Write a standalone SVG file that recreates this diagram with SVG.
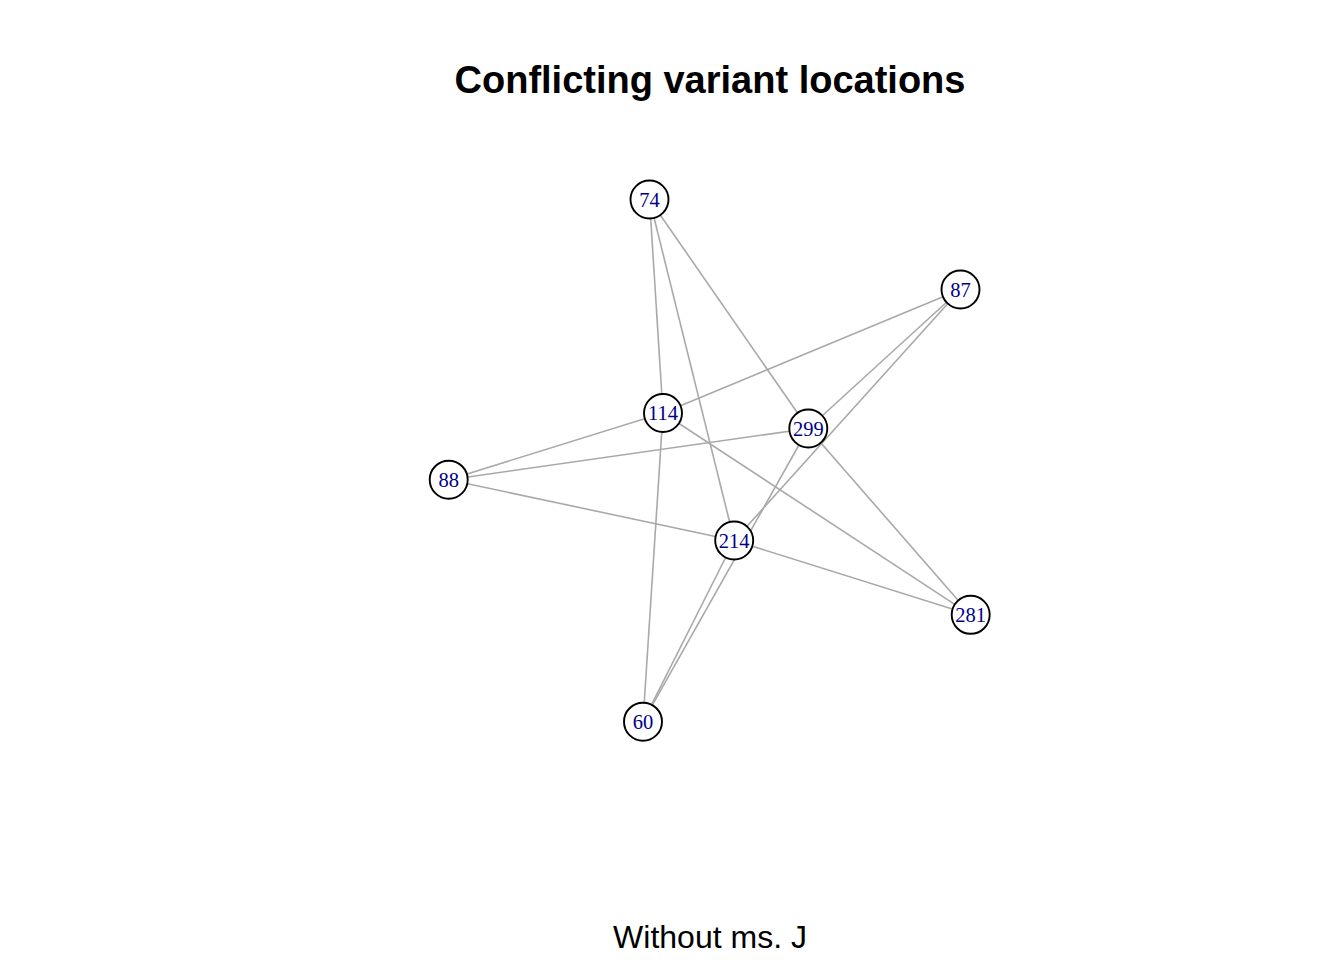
<svg xmlns="http://www.w3.org/2000/svg" width="1344" height="960" viewBox="0 0 1344 960">
<style>
.e{stroke:#A9A9A9;stroke-width:1.6;fill:none}
.n circle{fill:#FFFFFF;stroke:#000000;stroke-width:1.9}
.n text{font-family:"Liberation Serif","Times New Roman",serif;font-size:20.5px;fill:#00008B;text-anchor:middle;dominant-baseline:central}
.t{font-family:"Liberation Sans",Arial,sans-serif;fill:#000;text-anchor:middle}
</style>
<rect width="1344" height="960" fill="#FFFFFF"/>
<text class="t" x="710" y="93" font-size="38" font-weight="bold">Conflicting variant locations</text>
<text class="t" x="710" y="948" font-size="32">Without ms. J</text>
<g id="edges">
<line class="e" x1="649.5" y1="199.5" x2="663" y2="413"/>
<line class="e" x1="649.5" y1="199.5" x2="734.2" y2="540.5"/>
<line class="e" x1="649.5" y1="199.5" x2="808.3" y2="428.5"/>
<line class="e" x1="960.5" y1="289.5" x2="663" y2="413"/>
<line class="e" x1="960.5" y1="289.5" x2="808.3" y2="428.5"/>
<line class="e" x1="960.5" y1="289.5" x2="734.2" y2="540.5"/>
<line class="e" x1="448.7" y1="479.7" x2="663" y2="413"/>
<line class="e" x1="448.7" y1="479.7" x2="808.3" y2="428.5"/>
<line class="e" x1="448.7" y1="479.7" x2="734.2" y2="540.5"/>
<line class="e" x1="663" y1="413" x2="643" y2="721.7"/>
<line class="e" x1="663" y1="413" x2="970.7" y2="614.8"/>
<line class="e" x1="734.2" y1="540.5" x2="970.7" y2="614.8"/>
<line class="e" x1="808.3" y1="428.5" x2="970.7" y2="614.8"/>
<line class="e" x1="808.3" y1="428.5" x2="643" y2="721.7"/>
<line class="e" x1="734.2" y1="540.5" x2="643" y2="721.7"/>
</g>
<g id="n74" class="n"><circle cx="649.5" cy="199.5" r="19"/><text x="649.5" y="199.5">74</text></g>
<g id="n87" class="n"><circle cx="960.5" cy="289.5" r="19"/><text x="960.5" y="289.5">87</text></g>
<g id="n114" class="n"><circle cx="663" cy="413" r="19"/><text x="663" y="413">114</text></g>
<g id="n299" class="n"><circle cx="808.3" cy="428.5" r="19"/><text x="808.3" y="428.5">299</text></g>
<g id="n88" class="n"><circle cx="448.7" cy="479.7" r="19"/><text x="448.7" y="479.7">88</text></g>
<g id="n214" class="n"><circle cx="734.2" cy="540.5" r="19"/><text x="734.2" y="540.5">214</text></g>
<g id="n281" class="n"><circle cx="970.7" cy="614.8" r="19"/><text x="970.7" y="614.8">281</text></g>
<g id="n60" class="n"><circle cx="643" cy="721.7" r="19"/><text x="643" y="721.7">60</text></g>
</svg>
